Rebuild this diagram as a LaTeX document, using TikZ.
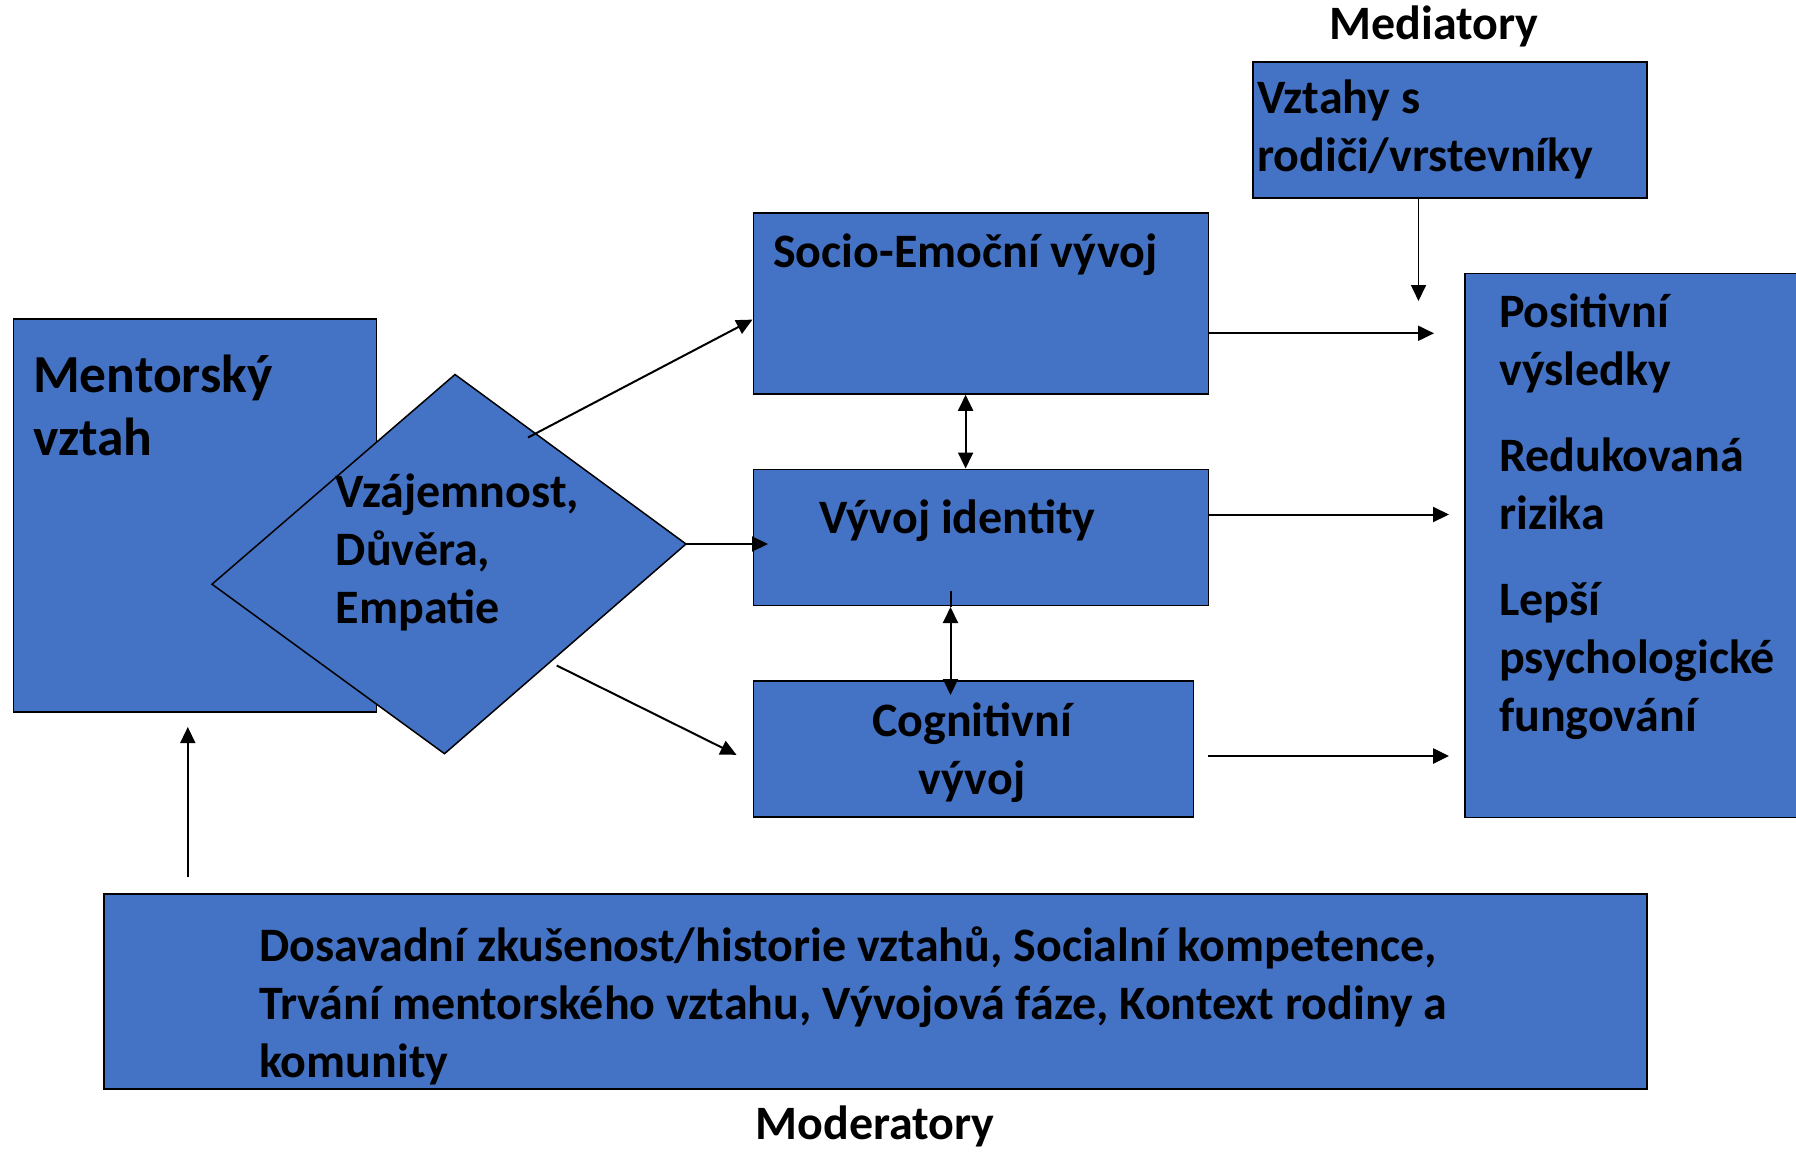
\documentclass[tikz,border=0pt]{standalone}
\usepackage{fontspec}
\setmainfont{Carlito}
\usetikzlibrary{arrows.meta}
\definecolor{blokblue}{HTML}{4472C4}
\tikzset{
	plocha/.style={draw=black, line width=1.8pt, fill=blokblue},
	blok/.style={plocha, anchor=north west, inner sep=0pt},
	popis/.style={font=\fontsize{48}{58}\selectfont\bfseries, align=left, anchor=base west, inner sep=0pt},
	sipka/.style={-{Triangle[length=16pt,width=15pt]}, line width=2pt},
	dvojsipka/.style={{Triangle[length=16pt,width=15pt]}-{Triangle[length=16pt,width=15pt]}, line width=2pt}
}
\def\Blok#1#2#3#4#5{%
	\node[blok, minimum width=#4pt, minimum height=#5pt] (#1) at (#2,#3) {};
}
\begin{document}
\begin{tikzpicture}[x=1pt, y=-1pt]
\useasboundingbox (0,0) rectangle (1796,1151);
\clip (0,0) rectangle (1796,1151);
% boxes
\Blok{mentor}{12.6}{318.4}{363}{393}
\coordinate (dtop) at (455,374.5);
\coordinate (dright) at (686,544);
\coordinate (dbot) at (444.5,753.7);
\coordinate (dleft) at (212,584.2);
\draw[plocha, line width=1.5pt] (dtop) -- (dright) -- (dbot) -- (dleft) -- cycle;
\Blok{socio}{752.5}{212}{455}{181}
\Blok{identita}{752.5}{468.5}{455}{136}
\Blok{kognice}{752.5}{680.4}{440}{136}
\Blok{vztahy}{1252}{60.7}{394}{136}
\Blok{vysledky}{1464}{272.6}{345}{544}
\Blok{moderatory}{103}{893.4}{1543}{194.6}
% texts (base = last line)
\node[popis, font=\fontsize{53.5}{63}\selectfont\bfseries] (tmentor) at (33,455.7) {Mentorský\\vztah};
\node[popis] (tdiamant) at (335.6,623) {Vzájemnost,\\Důvěra,\\Empatie};
\node[popis] (tsocio) at (773,267) {Socio-Emoční vývoj};
\node[popis] (tidentita) at (819,533.6) {Vývoj identity};
\node[popis, align=center, anchor=base] (tkognice) at (972,794) {Cognitivní\\vývoj};
\node[popis] (tvztahy) at (1257,171.7) {Vztahy s\\rodiči/vrstevníky};
\node[popis] (tvysledky1) at (1499,385) {Positivní\\výsledky};
\node[popis] (tvysledky2) at (1499,529) {Redukovaná\\rizika};
\node[popis] (tvysledky3) at (1499,731) {Lepší\\psychologické\\fungování};
\node[popis] (tmoderatory) at (259,1077) {Dosavadní zkušenost/historie vztahů, Socialní kompetence,\\Trvání mentorského vztahu, Vývojová fáze, Kontext rodiny a\\komunity};
\node[popis, anchor=base] (nmediatory) at (1434,39) {Mediatory};
\node[popis, anchor=base] (nmoderatory) at (875,1139) {Moderatory};
% arrows
\coordinate (d1) at (528,437.5);
\coordinate (d2) at (556.7,665.5);
\coordinate (s1) at (752.5,319.6);
\coordinate (i1) at (768,544);
\coordinate (k1) at (736.5,754.8);
\draw[sipka] (d1) -- (s1);
\draw[sipka] (dright) -- (i1);
\draw[sipka] (d2) -- (k1);
\draw[dvojsipka] (socio.south -| 965.6,0) -- (identita.north -| 965.6,0);
\coordinate (ik0) at (950.5,590.5);
\coordinate (ik1) at (950.5,607);
\coordinate (ik2) at (950.5,695);
\draw[line width=2pt] (ik0) -- (ik1);
\draw[dvojsipka] (ik1) -- (ik2);
\coordinate (v1) at (1418.5,301);
\draw[sipka, line width=1.6pt] (vztahy.south -| v1) -- (v1);
\coordinate (r1) at (1434,333.3);
\coordinate (r2) at (1449,514.5);
\coordinate (r3) at (1449,756);
\coordinate (r3s) at (1208,756);
\draw[sipka] (socio.east |- r1) -- (r1);
\draw[sipka] (identita.east |- r2) -- (r2);
\draw[sipka, line width=2.6pt] (r3s) -- (r3);
\coordinate (m0) at (187.8,877);
\coordinate (m1) at (187.8,727);
\draw[sipka, line width=1.6pt] (m0) -- (m1);
\end{tikzpicture}
\end{document}
